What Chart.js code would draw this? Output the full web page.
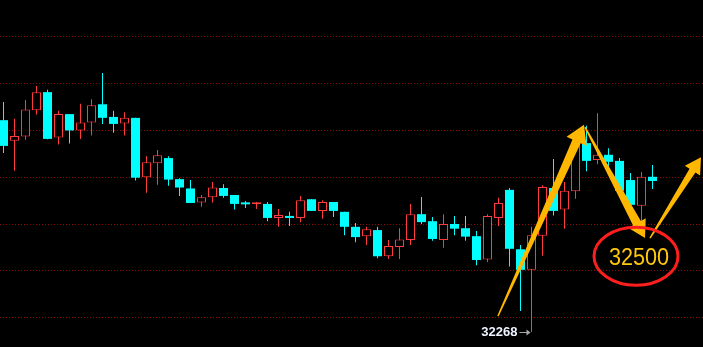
<!DOCTYPE html>
<html>
<head>
<meta charset="utf-8">
<script src="https://cdn.jsdelivr.net/npm/chart.js@4.4.1/dist/chart.umd.min.js"></script>
<style>
    html, body { margin: 0; padding: 0; background: #000; }
    #wrap { width: 703px; height: 347px; position: relative; background: #000; }
</style>
</head>
<body>
<div id="wrap"><canvas id="kline"></canvas></div>
<script>
// ==== CANDLE DATA ====
const opens  = [32721, 32677, 32686, 32742, 32781, 32684, 32734, 32699, 32716, 32755,
                32728, 32714, 32726, 32599, 32629, 32640, 32595, 32575, 32545, 32556,
                32576, 32561, 32543, 32541, 32542, 32512, 32516, 32512, 32552, 32527,
                32546, 32525, 32493, 32473, 32486, 32430, 32450, 32465, 32520, 32505,
                32465, 32499, 32490, 32473, 32423, 32512, 32572, 32445, 32401, 32474,
                32576, 32530, 32569, 32672, 32636, 32647, 32634, 32593, 32538, 32600];
const highs  = [32760, 32724, 32764, 32794, 32786, 32741, 32734, 32756, 32766, 32822,
                32741, 32738, 32726, 32644, 32657, 32644, 32597, 32593, 32561, 32589,
                32584, 32561, 32548, 32546, 32546, 32531, 32525, 32559, 32552, 32550,
                32546, 32525, 32501, 32493, 32493, 32465, 32490, 32542, 32557, 32514,
                32520, 32516, 32516, 32484, 32520, 32555, 32576, 32454, 32493, 32582,
                32638, 32589, 32689, 32709, 32736, 32661, 32640, 32608, 32610, 32625];
const lows   = [32651, 32613, 32679, 32733, 32680, 32669, 32671, 32681, 32688, 32713,
                32694, 32688, 32592, 32566, 32583, 32581, 32559, 32544, 32536, 32545,
                32555, 32530, 32533, 32531, 32505, 32493, 32495, 32503, 32527, 32510,
                32514, 32475, 32460, 32454, 32426, 32424, 32424, 32454, 32499, 32463,
                32448, 32475, 32463, 32411, 32418, 32495, 32408, 32313, 32268, 32431,
                32517, 32489, 32553, 32612, 32627, 32621, 32570, 32540, 32503, 32574];
const closes = [32666, 32687, 32744, 32781, 32681, 32734, 32699, 32716, 32753, 32726,
                32713, 32726, 32598, 32631, 32646, 32594, 32577, 32544, 32556, 32577,
                32559, 32542, 32541, 32543, 32512, 32518, 32512, 32550, 32527, 32546,
                32527, 32493, 32471, 32488, 32430, 32452, 32466, 32520, 32503, 32467,
                32499, 32489, 32472, 32422, 32516, 32544, 32446, 32401, 32475, 32578,
                32527, 32570, 32672, 32634, 32647, 32632, 32570, 32540, 32600, 32591];

// dotted price levels
const gridLevels = [32300, 32400, 32500, 32600, 32700, 32800, 32900];

// hand-drawn marks, in (candle index, price)
const arrowPaths = [
    { from: [44.95, 32302], to: [52.77, 32711] },
    { from: [52.86, 32706], to: [58.32, 32469] },
    { from: [58.77, 32469], to: [63.41, 32642] }
];
const targetMark = { idx: 57.5, price: 32430, text: '32500' };

// ==== STYLE ====
const UP = '#ff3b3b';
const DOWN = '#00ffff';
const ARROW = '#ffb700';

const idx = opens.map((_, i) => i);
const isUp = closes.map((c, i) => c > opens[i]);
const lowIndex = lows.indexOf(Math.min(...lows));

function drawArrow(ctx, x0, y0, x1, y1, headLen, headHalf, shaftHalf) {
    const dx = x1 - x0, dy = y1 - y0;
    const len = Math.hypot(dx, dy);
    const ux = dx / len, uy = dy / len;
    const nx = -uy, ny = ux;
    const bx = x1 - ux * headLen, by = y1 - uy * headLen;
    ctx.beginPath();
    ctx.moveTo(x0 + nx * 0.7, y0 + ny * 0.7);
    ctx.lineTo(bx + nx * shaftHalf, by + ny * shaftHalf);
    ctx.lineTo(bx + nx * headHalf, by + ny * headHalf);
    ctx.lineTo(x1, y1);
    ctx.lineTo(bx - nx * headHalf, by - ny * headHalf);
    ctx.lineTo(bx - nx * shaftHalf, by - ny * shaftHalf);
    ctx.lineTo(x0 - nx * 0.7, y0 - ny * 0.7);
    ctx.closePath();
    ctx.fill();
}

const overlay = {
    id: 'overlay',
    beforeDatasetsDraw(chart) {
        const { ctx, chartArea, scales: { y } } = chart;
        ctx.save();
        ctx.strokeStyle = '#8c0a0a';
        ctx.lineWidth = 1;
        ctx.setLineDash([1, 2]);
        gridLevels.forEach(v => {
            const py = Math.round(y.getPixelForValue(v)) + 0.5;
            ctx.beginPath();
            ctx.moveTo(chartArea.left, py);
            ctx.lineTo(chartArea.right, py);
            ctx.stroke();
        });
        ctx.restore();
    },
    afterDatasetsDraw(chart) {
        const { ctx, scales: { x, y } } = chart;
        ctx.save();

        // arrows
        ctx.fillStyle = ARROW;
        const sizes = [[18, 11, 4.5], [17, 10, 4.5], [16, 9, 3.5]];
        arrowPaths.forEach((a, i) => {
            const [h, hw, sw] = sizes[i];
            drawArrow(ctx,
                x.getPixelForValue(a.from[0]), y.getPixelForValue(a.from[1]),
                x.getPixelForValue(a.to[0]), y.getPixelForValue(a.to[1]),
                h, hw, sw);
        });

        // red ring with target text
        const cx = x.getPixelForValue(targetMark.idx);
        const cy = y.getPixelForValue(targetMark.price);
        ctx.strokeStyle = '#ff1e1e';
        ctx.lineWidth = 3;
        ctx.beginPath();
        ctx.ellipse(cx, cy, 42, 29, 0, 0, Math.PI * 2);
        ctx.stroke();

        ctx.save();
        ctx.translate(cx + 3, cy + 9);
        ctx.scale(0.9, 1);
        ctx.fillStyle = '#ffc80d';
        ctx.font = '24px "Liberation Sans", Arial, sans-serif';
        ctx.textAlign = 'center';
        ctx.textBaseline = 'alphabetic';
        ctx.fillText(targetMark.text, 0, 0);
        ctx.restore();

        // low price marker
        const lx = x.getPixelForValue(lowIndex);
        const ly = y.getPixelForValue(lows[lowIndex]);
        ctx.fillStyle = '#eef3ff';
        ctx.font = 'bold 13px "Liberation Sans", Arial, sans-serif';
        ctx.textAlign = 'right';
        ctx.textBaseline = 'middle';
        ctx.fillText(String(lows[lowIndex]), lx - 14, ly + 0.5);
        ctx.strokeStyle = '#a8a8a8';
        ctx.fillStyle = '#a8a8a8';
        ctx.lineWidth = 1;
        ctx.beginPath();
        ctx.moveTo(lx - 12, Math.round(ly) + 0.5);
        ctx.lineTo(lx - 3, Math.round(ly) + 0.5);
        ctx.stroke();
        ctx.beginPath();
        ctx.moveTo(lx - 1, Math.round(ly) + 0.5);
        ctx.lineTo(lx - 5, Math.round(ly) - 2.5);
        ctx.lineTo(lx - 5, Math.round(ly) + 3.5);
        ctx.closePath();
        ctx.fill();

        ctx.restore();
    }
};

new Chart(document.getElementById('kline'), {
    type: 'bar',
    data: {
        labels: idx,
        datasets: [
            {
                label: 'wick',
                data: idx.map(i => [lows[i], highs[i]]),
                backgroundColor: isUp.map(u => u ? UP : DOWN),
                barThickness: 1,
                grouped: false,
                inflateAmount: 0,
                borderWidth: 0,
                order: 2
            },
            {
                label: 'body',
                data: idx.map(i => [Math.min(opens[i], closes[i]), Math.max(opens[i], closes[i])]),
                backgroundColor: isUp.map(u => u ? '#000000' : DOWN),
                borderColor: isUp.map(u => u ? UP : DOWN),
                borderWidth: isUp.map(u => u ? 1 : 0),
                borderSkipped: false,
                barThickness: 9,
                minBarLength: 2,
                grouped: false,
                inflateAmount: 0,
                order: 1
            }
        ]
    },
    options: {
        responsive: true,
        maintainAspectRatio: false,
        animation: false,
        layout: { padding: 0 },
        scales: {
            x: {
                type: 'linear', min: -3.5 / 11, max: (703 - 3.5) / 11,
                offset: false, grid: { offset: false }, display: false
            },
            y: { type: 'linear', min: 32236, max: 32978, display: false }
        },
        plugins: {
            legend: { display: false },
            tooltip: { enabled: false }
        }
    },
    plugins: [overlay]
});
</script>
</body>
</html>
